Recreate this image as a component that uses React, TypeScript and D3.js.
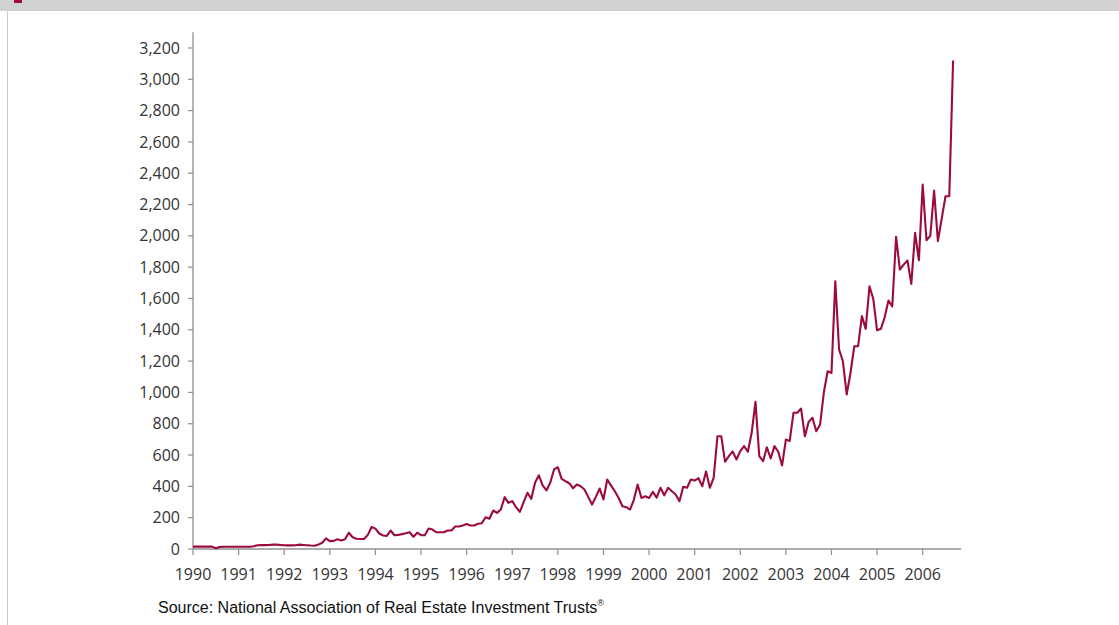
import React from "react";
import * as d3 from "d3";

// Monthly market capitalisation values (US$ bn), Jan–Dec of each year
const v1990 = [15, 15, 15, 15, 15, 15, 5, 13, 14, 14, 14, 14];
const v1991 = [14, 14, 14, 14, 18, 24, 25, 25, 26, 28, 28, 26];
const v1992 = [24, 23, 23, 24, 28, 26, 24, 22, 21, 28, 40, 68];
const v1993 = [50, 52, 62, 55, 62, 104, 75, 65, 64, 64, 90, 140];
const v1994 = [130, 99, 86, 84, 118, 88, 90, 95, 100, 107, 78, 104];
const v1995 = [88, 88, 131, 124, 107, 107, 107, 118, 118, 144, 144, 150];
const v1996 = [159, 150, 150, 161, 165, 203, 193, 246, 231, 252, 331, 295];
const v1997 = [306, 267, 237, 300, 359, 320, 423, 471, 407, 374, 423, 508];
const v1998 = [522, 448, 433, 420, 388, 412, 401, 380, 333, 284, 333, 386];
const v1999 = [316, 444, 405, 369, 326, 273, 267, 252, 314, 412, 326, 337];
const v2000 = [326, 365, 328, 391, 343, 391, 369, 348, 305, 397, 391, 444];
const v2001 = [437, 452, 401, 495, 391, 454, 720, 720, 557, 593, 623, 572];
const v2002 = [625, 657, 621, 742, 940, 593, 561, 650, 578, 657, 621, 533];
const v2003 = [699, 689, 870, 870, 897, 720, 812, 838, 752, 795, 1001, 1135];
const v2004 = [1124, 1710, 1274, 1199, 987, 1124, 1295, 1295, 1487, 1406, 1678, 1597];
const v2005 = [1397, 1406, 1480, 1587, 1550, 1994, 1785, 1816, 1842, 1693, 2019, 1844];
const v2006 = [2327, 1972, 2000, 2289, 1966, 2108, 2253, 2253, 3120];

const yearlySeries = [
  v1990, v1991, v1992, v1993, v1994, v1995, v1996, v1997, v1998,
  v1999, v2000, v2001, v2002, v2003, v2004, v2005, v2006,
];

const xTickYears = [
  1990, 1991, 1992, 1993, 1994, 1995, 1996, 1997, 1998,
  1999, 2000, 2001, 2002, 2003, 2004, 2005, 2006,
];
const yTickValues = [
  0, 200, 400, 600, 800, 1000, 1200, 1400, 1600, 1800, 2000, 2200,
  2400, 2600, 2800, 3000, 3200,
];

const sourceText = "Source: National Association of Real Estate Investment Trusts";

type Pt = { t: number; v: number };

export default function App() {
  const W = 1119;
  const H = 625;

  const data: Pt[] = [];
  yearlySeries.forEach((arr, yi) => {
    arr.forEach((v, m) => {
      data.push({ t: 1990 + yi + m / 12, v });
    });
  });

  const x = d3.scaleLinear().domain([1990, 2006.84]).range([193, 961]);
  const y = d3.scaleLinear().domain([0, 3300]).range([549, 32.3]);

  const line = d3
    .line<Pt>()
    .x((d) => x(d.t))
    .y((d) => y(d.v));

  const fmt = d3.format(",");
  const axisColor = "#8f8f8f";
  const labelColor = "#333333";
  const labelFont = "'Open Sans', 'Noto Sans', sans-serif";

  return (
    <svg
      width={W}
      height={H}
      style={{ position: "absolute", left: 0, top: 0, background: "#fff" }}
    >
      {/* header band */}
      <rect x={0} y={0} width={W} height={11} fill="#d1d2d4" />
      <rect x={14} y={0} width={8} height={3} fill="#a00a3c" />
      {/* left frame line */}
      <line x1={7.5} x2={7.5} y1={11} y2={H} stroke="#c9c9c9" strokeWidth={1} />

      {/* y axis */}
      <line x1={193} x2={193} y1={y(3300)} y2={y(0)} stroke={axisColor} strokeWidth={1.3} />
      {yTickValues.map((v) => (
        <g key={v}>
          <line x1={188} x2={193} y1={y(v)} y2={y(v)} stroke={axisColor} strokeWidth={1.2} />
          <text
            x={180}
            y={y(v) + 5.6}
            textAnchor="end"
            fontFamily={labelFont}
            fontSize={16}
            fill={labelColor}
          >
            {fmt(v)}
          </text>
        </g>
      ))}

      {/* x axis */}
      <line x1={193} x2={961} y1={y(0)} y2={y(0)} stroke={axisColor} strokeWidth={1.3} />
      {xTickYears.map((yr) => (
        <g key={yr}>
          <line x1={x(yr)} x2={x(yr)} y1={y(0)} y2={y(0) + 6} stroke={axisColor} strokeWidth={1.2} />
          <text
            x={x(yr)}
            y={579.5}
            textAnchor="middle"
            fontFamily={labelFont}
            fontSize={16}
            fill={labelColor}
          >
            {yr}
          </text>
        </g>
      ))}

      {/* series */}
      <path
        d={line(data) || ""}
        fill="none"
        stroke="#9c0b3b"
        strokeWidth={2.1}
        strokeLinejoin="round"
      />

      {/* source */}
      <text
        x={158}
        y={613}
        fontFamily="'Liberation Sans', Arial, sans-serif"
        fontSize={16}
        fill="#111"
      >
        {sourceText}
        <tspan fontSize={9} dy={-7}>®</tspan>
      </text>
    </svg>
  );
}
